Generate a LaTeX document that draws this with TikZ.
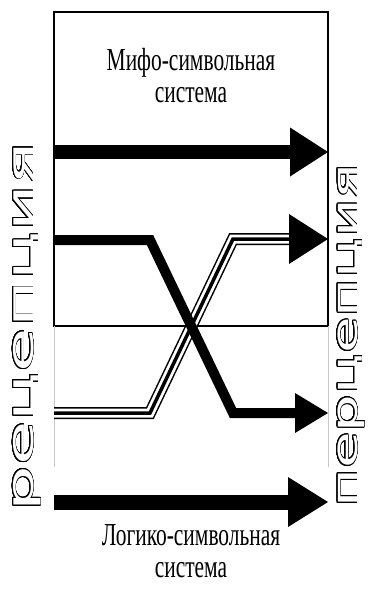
\documentclass[tikz,border=0pt]{standalone}
\usepackage{fontspec}
\setmainfont{Liberation Serif}
\newfontfamily\vsans{DejaVu Sans}
\usepackage{contour}
\contourlength{0.9pt}
\contournumber{32}
\tikzset{
  boxframe/.style={draw=black, line width=1.3pt, minimum width=274pt, minimum height=314pt, inner sep=0pt},
  guide/.style={draw=black!22, line width=0.9pt},
  shaftA/.style={draw=black, line width=14pt},
  shaftB/.style={draw=black, line width=10pt, line join=miter},
  shaftC/.style={draw=black, line width=15pt},
  headfill/.style={fill=black},
  sysl/.style={font=\fontsize{32}{32}\selectfont, inner sep=0pt, align=center},
  vlabel/.style={rotate=90, anchor=base, inner sep=0pt, text=white}
}
\begin{document}
\begin{tikzpicture}[x=1pt,y=-1pt]
\useasboundingbox (0,0) rectangle (368,608);
% upper box
\node[boxframe] (mbox) at (191,169) {};
\coordinate (g1a) at (54,326); \coordinate (g1b) at (54,467);
\coordinate (g2a) at (328,326); \coordinate (g2b) at (328,467);
\draw[guide] (g1a) -- (g1b);
\draw[guide] (g2a) -- (g2b);
% texts
\node[sysl] (mifo) at (191,80.5) {\scalebox{0.67}[1]{\begin{tabular}{@{}c@{}}Мифо-символьная\\система\end{tabular}}};
\node[sysl] (logi) at (191,555.5) {\scalebox{0.67}[1]{\begin{tabular}{@{}c@{}}Логико-символьная\\система\end{tabular}}};
% arrow 1 (top)
\coordinate (a1s) at (54,152); \coordinate (a1b) at (290,152); \coordinate (a1t) at (328,152);
\coordinate (a1u) at (290,127.5); \coordinate (a1d) at (290,176.5);
\draw[shaftA] (a1s) -- (a1b);
\fill[headfill] (a1t) -- (a1u) -- (a1d) -- cycle;
% triple line (lower left to upper right)
\coordinate (t1) at (54,413); \coordinate (t2) at (150,413); \coordinate (t3) at (233,239); \coordinate (t4) at (290,239);
\coordinate (t5) at (328,239); \coordinate (t6) at (289,214); \coordinate (t7) at (289,264);
\draw[black, line width=12pt, line join=miter] (t1) -- (t2) -- (t3) -- (t4);
\draw[white, line width=9pt, line join=miter] (t1) -- (t2) -- (t3) -- (t4);
\draw[black, line width=3.5pt, line join=miter] (t1) -- (t2) -- (t3) -- (t4);
\fill[headfill] (t5) -- (t6) -- (t7) -- cycle;
% thick line (upper left to lower right)
\coordinate (k1) at (54,240); \coordinate (k2) at (150,240); \coordinate (k3) at (233,413); \coordinate (k4) at (296,413);
\coordinate (k5) at (328,413); \coordinate (k6) at (295,393); \coordinate (k7) at (295,433);
\draw[shaftB] (k1) -- (k2) -- (k3) -- (k4);
\fill[headfill] (k5) -- (k6) -- (k7) -- cycle;
% arrow 4 (bottom)
\coordinate (b1) at (54,502); \coordinate (b2) at (289,502); \coordinate (b3) at (328,502);
\coordinate (b4) at (288,477); \coordinate (b5) at (288,527);
\draw[shaftC] (b1) -- (b2);
\fill[headfill] (b3) -- (b4) -- (b5) -- cycle;
% vertical labels
\node[vlabel] (recep) at (33,326.5) {\contour{black}{\scalebox{2.0}[1]{\vsans\fontsize{36}{36}\selectfont рецепция}}};
\node[vlabel] (percep) at (357,335.5) {\contour{black}{\scalebox{1.7}[1]{\vsans\fontsize{35}{35}\selectfont перцепция}}};
\end{tikzpicture}
\end{document}
